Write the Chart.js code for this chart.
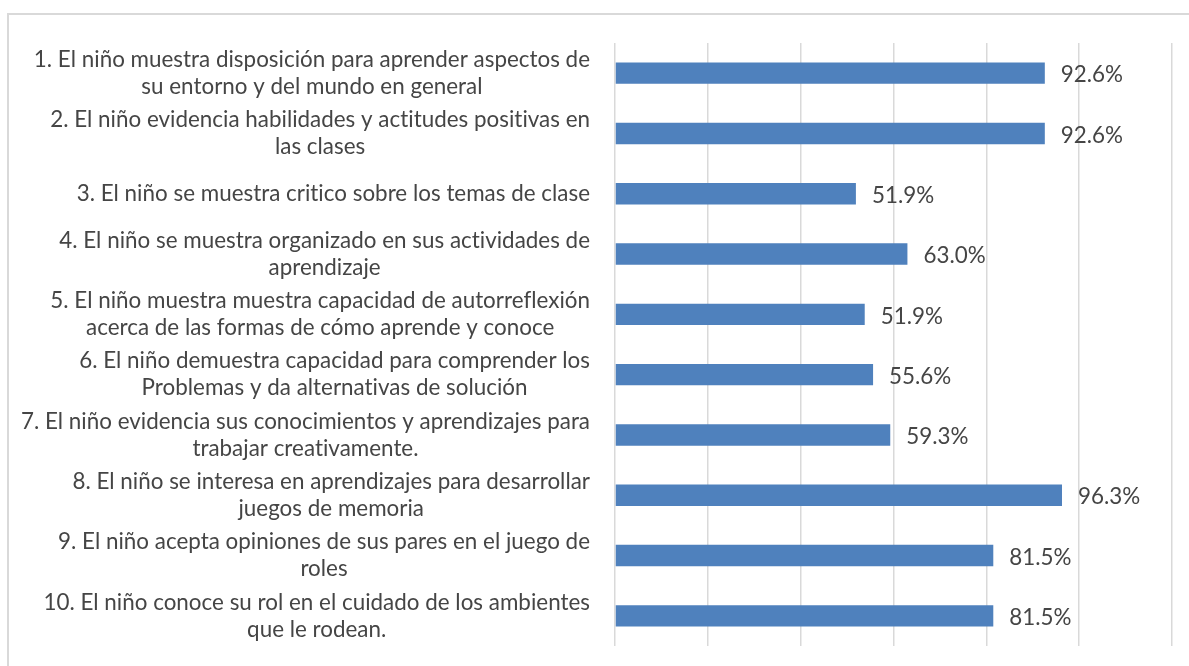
<!DOCTYPE html>
<html>
<head>
<meta charset="utf-8">
<script src="https://cdn.jsdelivr.net/npm/chart.js@4"></script>
<style>
  html, body { margin: 0; padding: 0; background: #fff; }
  #frame { position: absolute; left: 7px; top: 13px; width: 1200px; height: 700px; border: 2px solid #d9d9d9; }
  #wrap { position: absolute; left: 0; top: 0; width: 1189px; height: 666px; }
</style>
</head>
<body>
<div id="frame"></div>
<div id="wrap"><canvas id="chart" width="1189" height="666"></canvas></div>
<script>
// categorias (ya partidas en lineas como en el grafico original)
const categories = [
    ['1. El niño muestra disposición para aprender aspectos de', 'su entorno y del mundo en general'],
    ['2. El niño evidencia habilidades y actitudes positivas en', 'las clases'],
    ['3. El niño se muestra critico sobre los temas de clase'],
    ['4. El niño se muestra organizado en sus actividades de', 'aprendizaje'],
    ['5. El niño muestra muestra capacidad de autorreflexión', 'acerca de las formas de cómo aprende y conoce'],
    ['6. El niño demuestra capacidad para comprender los', 'Problemas y da alternativas de solución'],
    ['7. El niño evidencia sus conocimientos y aprendizajes para', 'trabajar creativamente.'],
    ['8. El niño se interesa en aprendizajes para desarrollar', 'juegos de memoria'],
    ['9. El niño acepta opiniones de sus pares en el juego de', 'roles'],
    ['10. El niño conoce su rol en el cuidado de los ambientes', 'que le rodean.']
];

// largo de cada barra (en %)
const values = [92.6, 92.6, 51.9, 63.0, 53.8, 55.6, 59.3, 96.3, 81.5, 81.5];

// texto que se muestra al lado de cada barra
const valueLabels = ['92.6%', '92.6%', '51.9%', '63.0%', '51.9%', '55.6%', '59.3%', '96.3%', '81.5%', '81.5%'];

// eje x (sin etiquetas visibles, solo lineas de cuadricula)
const xTicks = [0, 20, 40, 60, 80, 100, 120];

const textColor = '#454545';
const labelFont = '22.4px Lato';

// dibuja las etiquetas del eje y (bloque alineado a la derecha, lineas centradas) y los valores
const labelPlugin = {
    id: 'labelPlugin',
    afterDatasetsDraw(chart) {
        const ctx = chart.ctx;
        const yScale = chart.scales.y;
        const left = chart.chartArea.left;

        ctx.save();
        ctx.fillStyle = textColor;
        ctx.font = labelFont;
        ctx.textBaseline = 'middle';
        if ('letterSpacing' in ctx) ctx.letterSpacing = '0.01px'; // sin ligaduras

        ctx.textAlign = 'center';
        categories.forEach((lines, i) => {
            const y = yScale.getPixelForTick(i);
            const widest = Math.max(...lines.map(l => ctx.measureText(l).width));
            const cx = left - 25 - widest / 2;
            lines.forEach((line, j) => {
                ctx.fillText(line, cx, y + (j - (lines.length - 1) / 2) * 27);
            });
        });

        ctx.textAlign = 'left';
        chart.getDatasetMeta(0).data.forEach((bar, i) => {
            ctx.fillText(valueLabels[i], bar.x + 16, bar.y + 2);
        });
        ctx.restore();
    }
};

const ctx = document.getElementById('chart').getContext('2d');
new Chart(ctx, {
    type: 'bar',
    data: {
        labels: categories,
        datasets: [{
            data: values,
            backgroundColor: '#4F81BD',
            borderWidth: 0,
            barPercentage: 0.355,
            categoryPercentage: 1
        }]
    },
    options: {
        indexAxis: 'y',
        responsive: false,
        animation: false,
        layout: {
            padding: { top: 43, bottom: 20, right: 17, left: 0 }
        },
        scales: {
            x: {
                min: xTicks[0],
                max: xTicks[xTicks.length - 1],
                ticks: { display: false, stepSize: xTicks[1] - xTicks[0] },
                grid: { color: '#d9d9d9', lineWidth: 1.5, drawTicks: false },
                border: { display: false },
                afterFit: s => { s.height = 0; }
            },
            y: {
                ticks: { display: false },
                grid: { display: false },
                border: { display: false },
                afterFit: s => { s.width = 615; }
            }
        },
        plugins: {
            legend: { display: false },
            tooltip: { enabled: false }
        }
    },
    plugins: [labelPlugin]
});
</script>
</body>
</html>
